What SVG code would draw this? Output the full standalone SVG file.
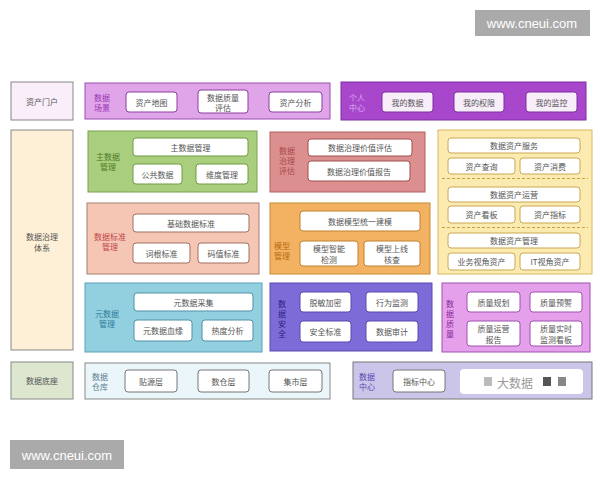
<svg xmlns="http://www.w3.org/2000/svg" width="600" height="480" viewBox="0 0 600 480">
<style>
text{font-family:"Noto Sans CJK SC","Noto Sans",sans-serif;font-size:8px;fill:#555;text-anchor:middle;dominant-baseline:central}
.wm{font-family:"Liberation Sans","DejaVu Sans",sans-serif;font-size:13px;fill:#fff}
.in{fill:#fff;stroke-width:1}
.g rect.o{stroke-width:1.2}
</style>
<rect width="600" height="480" fill="#fff"/>
<g id="watermark-top"><rect x="475" y="10" width="115" height="26" fill="#aaa"/><text class="wm" x="532" y="23.5">www.cneui.com</text></g>
<g id="watermark-bottom"><rect x="10" y="440" width="114" height="29" fill="#aaa"/><text class="wm" x="67" y="455">www.cneui.com</text></g>

<g id="asset-portal"><rect x="11" y="82" width="62" height="38" fill="#fbeefb" stroke="#888"/><text x="42" y="101">资产门户</text></g>

<g id="data-scene"><rect x="85" y="83" width="245" height="36" fill="#e0a4e8" stroke="#9b4fb0"/>
<text x="102" y="97" style="fill:#9a38b4">数据</text><text x="102" y="107" style="fill:#9a38b4">场景</text>
<rect class="in" x="126" y="92" width="51" height="20" rx="3" stroke="#8a3ea0"/><text x="151.5" y="102">资产地图</text>
<rect class="in" x="198" y="90" width="50" height="23" rx="3" stroke="#8a3ea0"/><text x="223" y="97">数据质量</text><text x="223" y="107">评估</text>
<rect class="in" x="269" y="92" width="53" height="20" rx="3" stroke="#8a3ea0"/><text x="295.5" y="102">资产分析</text></g>

<g id="personal-center"><rect x="341" y="82" width="245" height="38" fill="#a847cc" stroke="#7f2fa0"/>
<text x="357" y="97" style="fill:#dcaaf0">个人</text><text x="357" y="107" style="fill:#dcaaf0">中心</text>
<rect x="382" y="92" width="51" height="20" rx="3" fill="#f8eefa" stroke="#7f2fa0"/><text x="407.5" y="102">我的数据</text>
<rect x="454" y="92" width="50" height="20" rx="3" fill="#f8eefa" stroke="#7f2fa0"/><text x="479" y="102">我的权限</text>
<rect x="526" y="92" width="51" height="20" rx="3" fill="#f8eefa" stroke="#7f2fa0"/><text x="551.5" y="102">我的监控</text></g>

<g id="governance-system"><rect x="11" y="130" width="62" height="220" fill="#fdf0d6" stroke="#888"/><text x="42" y="236">数据治理</text><text x="42" y="247">体系</text></g>

<g id="master-data"><rect x="88" y="131" width="169" height="61" fill="#a9cf7e" stroke="#7aa050"/>
<text x="108" y="156" style="fill:#4d7a25">主数据</text><text x="108" y="166" style="fill:#4d7a25">管理</text>
<rect class="in" x="133" y="138" width="115" height="18" rx="3" stroke="#6f9a45"/><text x="190.5" y="147">主数据管理</text>
<rect class="in" x="133" y="164" width="49" height="20" rx="3" stroke="#6f9a45"/><text x="157.5" y="174">公共数据</text>
<rect class="in" x="196" y="164" width="52" height="20" rx="3" stroke="#6f9a45"/><text x="222" y="174">维度管理</text></g>

<g id="governance-eval"><rect x="270" y="132" width="155" height="60" fill="#dc8f8f" stroke="#b06060"/>
<text x="287" y="150" style="fill:#a84848">数据</text><text x="287" y="160" style="fill:#a84848">治理</text><text x="287" y="170" style="fill:#a84848">评估</text>
<rect class="in" x="308" y="139" width="104" height="17" rx="3" stroke="#a05050"/><text x="360" y="147.5">数据治理价值评估</text>
<rect class="in" x="308" y="161" width="102" height="20" rx="3" stroke="#a05050"/><text x="359" y="171">数据治理价值报告</text></g>

<g id="data-asset"><rect x="438" y="130" width="154" height="144" fill="#fcebb0" stroke="#d8b860"/>
<rect class="in" x="448" y="138" width="132" height="15" rx="3" stroke="#c8a850"/><text x="514" y="145.5">数据资产服务</text>
<rect class="in" x="448" y="158" width="67" height="16" rx="3" stroke="#c8a850"/><text x="481.5" y="166">资产查询</text>
<rect class="in" x="520" y="158" width="60" height="16" rx="3" stroke="#c8a850"/><text x="550" y="166">资产消费</text>
<line x1="442" y1="178.5" x2="588" y2="178.5" stroke="#c8a040" stroke-dasharray="3,2"/>
<rect class="in" x="448" y="187" width="132" height="15" rx="3" stroke="#c8a850"/><text x="514" y="194.5">数据资产运营</text>
<rect class="in" x="448" y="206" width="67" height="17" rx="3" stroke="#c8a850"/><text x="481.5" y="214.5">资产看板</text>
<rect class="in" x="520" y="206" width="60" height="17" rx="3" stroke="#c8a850"/><text x="550" y="214.5">资产指标</text>
<line x1="442" y1="227.5" x2="588" y2="227.5" stroke="#c8a040" stroke-dasharray="3,2"/>
<rect class="in" x="448" y="233" width="132" height="15" rx="3" stroke="#c8a850"/><text x="514" y="240.5">数据资产管理</text>
<rect class="in" x="448" y="253" width="67" height="17" rx="3" stroke="#c8a850"/><text x="481.5" y="261.5">业务视角资产</text>
<rect class="in" x="520" y="253" width="60" height="17" rx="3" stroke="#c8a850"/><text x="550" y="261.5">IT视角资产</text></g>

<g id="data-standard"><rect x="87" y="203" width="172" height="71" fill="#f6c6b5" stroke="#a08070"/>
<text x="110" y="236" style="fill:#c04848">数据标准</text><text x="110" y="246" style="fill:#c04848">管理</text>
<rect class="in" x="133" y="214" width="116" height="18" rx="3" stroke="#a07060"/><text x="191" y="223">基础数据标准</text>
<rect class="in" x="133" y="243" width="57" height="20" rx="3" stroke="#a07060"/><text x="161.5" y="253">词根标准</text>
<rect class="in" x="198" y="243" width="51" height="20" rx="3" stroke="#a07060"/><text x="223.5" y="253">码值标准</text></g>

<g id="model-mgmt"><rect x="270" y="203" width="160" height="71" fill="#f2b262" stroke="#c88a30"/>
<text x="282" y="245" style="fill:#b86a10">模型</text><text x="282" y="255" style="fill:#b86a10">管理</text>
<rect class="in" x="300" y="211" width="120" height="20" rx="3" stroke="#c08030"/><text x="360" y="221">数据模型统一建模</text>
<rect class="in" x="300" y="241" width="58" height="25" rx="3" stroke="#c08030"/><text x="329" y="248.5">模型智能</text><text x="329" y="259">检测</text>
<rect class="in" x="364" y="241" width="56" height="25" rx="3" stroke="#c08030"/><text x="392" y="248.5">模型上线</text><text x="392" y="259">核查</text></g>

<g id="metadata"><rect x="85" y="283" width="177" height="69" fill="#92d0e0" stroke="#5aa0b8"/>
<text x="107" y="313" style="fill:#2f7d98">元数据</text><text x="107" y="323" style="fill:#2f7d98">管理</text>
<rect class="in" x="134" y="293" width="119" height="18" rx="3" stroke="#5090a8"/><text x="193.5" y="302">元数据采集</text>
<rect class="in" x="134" y="320" width="58" height="21" rx="3" stroke="#5090a8"/><text x="163" y="330.5">元数据血缘</text>
<rect class="in" x="202" y="320" width="51" height="21" rx="3" stroke="#5090a8"/><text x="227.5" y="330.5">热度分析</text></g>

<g id="data-security"><rect x="270" y="283" width="162" height="68" fill="#7d6bd8" stroke="#5a48b0"/>
<text x="282" y="303" style="fill:#2e2080">数</text><text x="282" y="313" style="fill:#2e2080">据</text><text x="282" y="323" style="fill:#2e2080">安</text><text x="282" y="333" style="fill:#2e2080">全</text>
<rect class="in" x="300" y="292" width="51" height="20" rx="3" stroke="#5a48b0"/><text x="325.5" y="302">脱敏加密</text>
<rect class="in" x="366" y="292" width="52" height="20" rx="3" stroke="#5a48b0"/><text x="392" y="302">行为监测</text>
<rect class="in" x="300" y="321" width="51" height="21" rx="3" stroke="#5a48b0"/><text x="325.5" y="331.5">安全标准</text>
<rect class="in" x="366" y="321" width="52" height="21" rx="3" stroke="#5a48b0"/><text x="392" y="331.5">数据审计</text></g>

<g id="data-quality"><rect x="442" y="283" width="148" height="69" fill="#e4a0ea" stroke="#a050b0"/>
<text x="450" y="303" style="fill:#8a2a98">数</text><text x="450" y="313" style="fill:#8a2a98">据</text><text x="450" y="323" style="fill:#8a2a98">质</text><text x="450" y="333" style="fill:#8a2a98">量</text>
<rect class="in" x="467" y="292" width="53" height="20" rx="3" stroke="#a050b0"/><text x="493.5" y="302">质量规划</text>
<rect class="in" x="530" y="292" width="52" height="20" rx="3" stroke="#a050b0"/><text x="556" y="302">质量预警</text>
<rect class="in" x="467" y="321" width="53" height="25" rx="3" stroke="#a050b0"/><text x="493.5" y="328.5">质量运营</text><text x="493.5" y="339">报告</text>
<rect class="in" x="530" y="321" width="52" height="25" rx="3" stroke="#a050b0"/><text x="556" y="328.5">质量实时</text><text x="556" y="339">监测看板</text></g>

<g id="data-base"><rect x="11" y="362" width="62" height="37" fill="#dde7d0" stroke="#888"/><text x="42" y="380.5">数据底座</text></g>

<g id="data-warehouse"><rect x="85" y="363" width="245" height="36" fill="#ebf6fb" stroke="#888"/>
<text x="100" y="376" style="fill:#5a7f90">数据</text><text x="100" y="386" style="fill:#5a7f90">仓库</text>
<rect class="in" x="125" y="370" width="52" height="22" rx="3" stroke="#777"/><text x="151" y="381">贴源层</text>
<rect class="in" x="198" y="370" width="51" height="22" rx="3" stroke="#777"/><text x="223.5" y="381">数仓层</text>
<rect class="in" x="269" y="370" width="53" height="22" rx="3" stroke="#777"/><text x="295.5" y="381">集市层</text></g>

<g id="data-center"><rect x="353" y="362" width="239" height="37" fill="#cbc5ea" stroke="#777"/>
<text x="367" y="376" style="fill:#5a48b0">数据</text><text x="367" y="386" style="fill:#5a48b0">中心</text>
<rect class="in" x="393" y="370" width="52" height="22" rx="3" stroke="#777"/><text x="419" y="381">指标中心</text>
<rect x="460" y="369" width="123" height="25" rx="4" fill="#fff"/>
<rect x="484" y="377" width="8" height="9" fill="#bbb"/>
<rect x="543" y="377" width="8" height="9" fill="#555"/>
<rect x="558" y="377" width="8" height="9" fill="#888"/>
<text x="515" y="382" style="font-size:12px;fill:#999">大数据</text></g>
</svg>
